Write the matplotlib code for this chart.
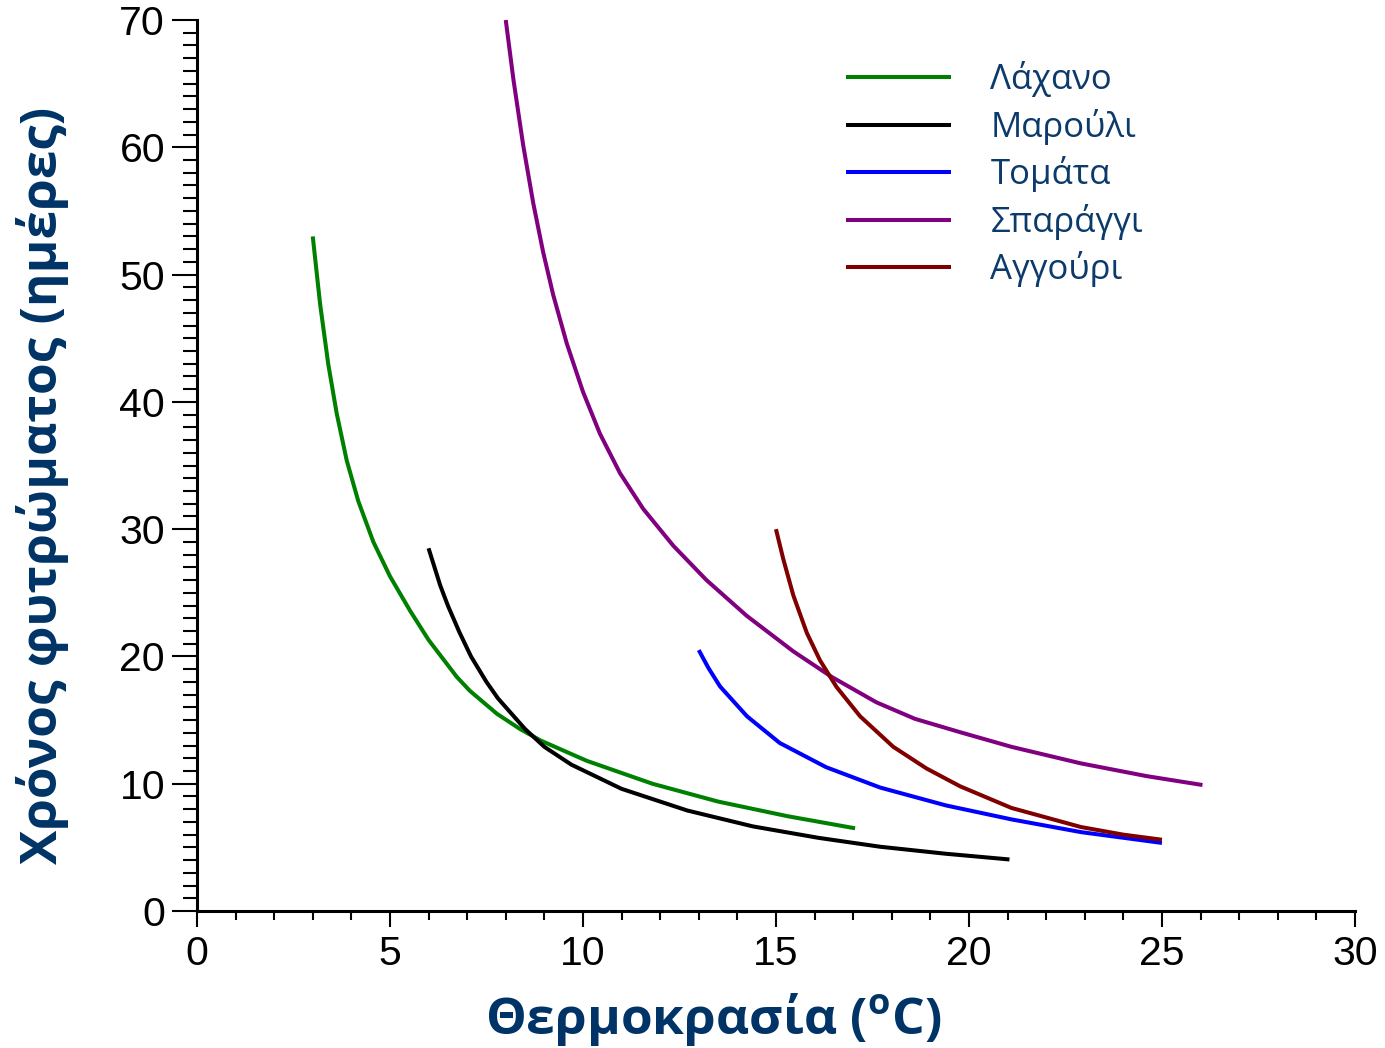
import matplotlib.pyplot as plt
from matplotlib.ticker import MultipleLocator

# Διαβασμένες τιμές από το γράφημα (θερμοκρασία, ημέρες)
lahano_t = [3.0, 3.19, 3.4, 3.62, 3.88, 4.18, 4.57, 5.0, 5.52, 6.0, 6.73, 7.07, 7.77,
            8.37, 8.9, 10.1, 11.8, 13.5, 15.3, 17.05]
lahano_d = [53.0, 47.7, 43.0, 39.1, 35.4, 32.2, 29.0, 26.3, 23.6, 21.3, 18.4, 17.3, 15.5,
            14.3, 13.4, 11.8, 10.0, 8.6, 7.45, 6.5]

marouli_t = [6.0, 6.3, 6.5, 6.8, 7.1, 7.5, 7.8, 8.5, 9.0, 9.7, 11.0, 12.7, 14.4, 16.1,
             17.7, 19.4, 21.05]
marouli_d = [28.5, 25.6, 24.0, 21.9, 20.0, 18.0, 16.7, 14.3, 12.9, 11.5, 9.6, 7.9, 6.65, 5.75,
             5.05, 4.5, 4.05]

tomata_t = [13.0, 13.25, 13.55, 14.25, 15.1, 16.3, 17.7, 19.4, 21.1, 22.9, 25.0]
tomata_d = [20.5, 19.1, 17.65, 15.3, 13.2, 11.3, 9.7, 8.3, 7.2, 6.2, 5.35]

sparaggi_t = [8.0, 8.2, 8.45, 8.71, 8.97, 9.23, 9.58, 10.0, 10.44, 10.96, 11.56, 12.34,
              13.2, 14.24, 15.45, 16.44, 17.6, 18.6, 19.77, 21.1, 22.9, 24.6, 26.05]
sparaggi_d = [70.0, 65.3, 60.2, 55.65, 51.75, 48.4, 44.6, 40.8, 37.5, 34.4, 31.6, 28.7,
              26.0, 23.2, 20.4, 18.4, 16.4, 15.1, 14.05, 12.9, 11.6, 10.6, 9.9]

aggouri_t = [15.0, 15.19, 15.45, 15.8, 16.14, 16.57, 17.18, 18.04, 18.9, 19.77, 21.1, 22.9,
             24.0, 25.0]
aggouri_d = [30.0, 27.65, 24.8, 21.85, 19.7, 17.6, 15.3, 12.9, 11.2, 9.8, 8.1, 6.6,
             6.0, 5.6]

names = ["Λάχανο", "Μαρούλι", "Τομάτα", "Σπαράγγι", "Αγγούρι"]
colors = ["#008000", "#000000", "#0000ff", "#800080", "#800000"]

label_color = "#003366"

plt.rcParams['mathtext.fontset'] = 'custom'
plt.rcParams['mathtext.bf'] = 'Open Sans:bold'
plt.rcParams['mathtext.rm'] = 'Open Sans:bold'

fig = plt.figure(figsize=(13.85, 10.48), dpi=100)
ax = fig.add_axes([0.1422, 0.1307, 0.8361, 0.8502])

series = [(lahano_t, lahano_d), (marouli_t, marouli_d), (tomata_t, tomata_d),
          (sparaggi_t, sparaggi_d), (aggouri_t, aggouri_d)]
for (t, d), name, c in zip(series, names, colors):
    ax.plot(t, d, color=c, linewidth=2.9, label=name, solid_capstyle='butt',
            solid_joinstyle='round', clip_on=False)

ax.set_xlim(0, 30)
ax.set_ylim(0, 70)
ax.spines['top'].set_visible(False)
ax.spines['right'].set_visible(False)
for s in ['left', 'bottom']:
    ax.spines[s].set_linewidth(2.2)

ax.xaxis.set_major_locator(MultipleLocator(5))
ax.xaxis.set_minor_locator(MultipleLocator(1))
ax.yaxis.set_major_locator(MultipleLocator(10))
ax.yaxis.set_minor_locator(MultipleLocator(1))
ax.tick_params(axis='y', which='major', length=18, width=1.5, pad=5)
ax.tick_params(axis='y', which='minor', length=10, width=1.5)
ax.tick_params(axis='x', which='major', length=11.5, width=1.5, pad=6)
ax.tick_params(axis='x', which='minor', length=6.5, width=1.5)
for lab in ax.get_xticklabels() + ax.get_yticklabels():
    lab.set_fontfamily('Liberation Sans')
    lab.set_fontsize(29.5)

ax.set_xlabel("Θερμοκρασία ($^{\\mathbf{o}}$C)", fontfamily='Open Sans', fontweight='bold',
              fontsize=37, color=label_color, va='center')
ax.set_ylabel("Χρόνος φυτρώματος (ημέρες)", fontfamily='Open Sans', fontweight='bold',
              fontsize=37, color=label_color, va='center')
ax.xaxis.set_label_coords(0.4456, -0.122)
ax.yaxis.set_label_coords(-0.133, 0.478)

leg = ax.legend(loc='upper left', bbox_to_anchor=(829 / 1385, 1 - 44 / 1048),
                bbox_transform=fig.transFigure, frameon=False, borderpad=0,
                handlelength=3.0, handletextpad=1.15, labelspacing=0.33,
                prop={'family': 'Open Sans', 'size': 25})
for txt in leg.get_texts():
    txt.set_color("#0b3a6b")

fig.savefig("out.png", dpi=100)
